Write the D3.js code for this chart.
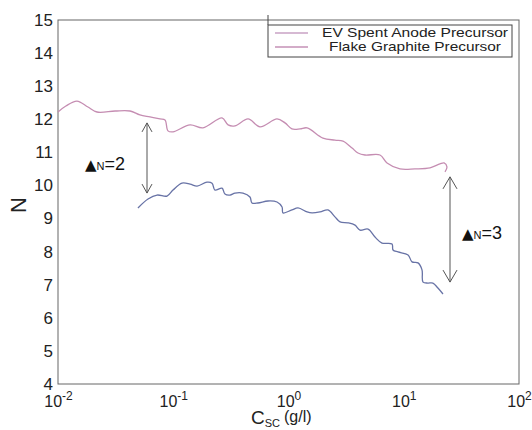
<!DOCTYPE html>
<html>
<head>
<meta charset="utf-8">
<script src="https://cdn.jsdelivr.net/npm/d3@7"></script>
<style>
  body { margin: 0; background: #fff; }
  svg { display: block; font-family: Arial, "Liberation Sans", sans-serif; }
</style>
</head>
<body>
<svg id="chart" width="532" height="430"></svg>
<script>
// ---- data ----
const seriesNames = ["EV Spent Anode Precursor", "Flake Graphite Precursor"];

// EV Spent Anode Precursor (upper curve): concentration C_sc (g/l), N
const evC = [0.0100, 0.0117, 0.0146, 0.0182, 0.0218, 0.0313, 0.0422, 0.0514, 0.0628, 0.0767,
             0.0848, 0.0900, 0.0995, 0.140, 0.181, 0.265, 0.299, 0.343, 0.446, 0.566,
             0.795, 0.933, 1.07, 1.26, 1.45, 1.99, 2.53, 2.97, 3.56, 4.01,
             4.61, 6.22, 7.16, 9.27, 12.5, 16.9, 20.6, 22.4, 23.7, 22.8];
const evN = [12.22, 12.40, 12.55, 12.37, 12.22, 12.25, 12.25, 12.13, 12.07, 12.01,
             11.98, 11.65, 11.62, 11.83, 11.74, 12.04, 11.83, 11.80, 12.01, 11.77,
             12.01, 11.89, 11.71, 11.71, 11.74, 11.43, 11.37, 11.34, 11.13, 10.98,
             10.92, 10.92, 10.68, 10.50, 10.50, 10.53, 10.65, 10.68, 10.56, 10.41];

// Flake Graphite Precursor (lower curve)
const fgC = [0.0494, 0.0604, 0.0723, 0.0883, 0.0995, 0.119, 0.140, 0.161, 0.196, 0.217,
             0.230, 0.265, 0.281, 0.311, 0.343, 0.403, 0.463, 0.482, 0.543, 0.664,
             0.795, 0.879, 0.896, 1.07, 1.21, 1.45, 1.60, 1.88, 2.20, 2.53,
             2.80, 3.28, 3.78, 4.17, 4.90, 5.63, 6.47, 7.91, 8.07, 8.92,
             10.9, 11.8, 13.3, 14.4, 14.7, 16.2, 17.9, 19.8, 21.9];
const fgN = [9.32, 9.59, 9.71, 9.68, 9.86, 10.07, 10.04, 9.98, 10.10, 10.07,
             9.86, 9.92, 9.74, 9.71, 9.77, 9.77, 9.65, 9.47, 9.47, 9.53,
             9.50, 9.35, 9.17, 9.26, 9.32, 9.20, 9.17, 9.20, 9.26, 9.05,
             8.90, 8.87, 8.80, 8.65, 8.68, 8.44, 8.26, 8.23, 8.05, 7.99,
             7.90, 7.69, 7.66, 7.45, 7.08, 7.05, 7.05, 6.90, 6.72];

const xTickValues = [0.01, 0.1, 1, 10, 100];
const xTickExponents = ["-2", "-1", "0", "1", "2"];
const yTickValues = [4, 5, 6, 7, 8, 9, 10, 11, 12, 13, 14, 15];

// Delta-N annotations: C position, N top, N bottom, label number
const annC = [0.0592, 25.2];
const annTop = [11.89, 10.26];
const annBottom = [9.77, 7.08];
const annValue = ["2", "3"];

// ---- drawing ----
const svg = d3.select("#chart");
const mLeft = 58, mRight = 519, mTop = 20, mBottom = 384;

const x = d3.scaleLog().domain([0.01, 100]).range([mLeft, mRight]);
const y = d3.scaleLinear().domain([4, 15]).range([mBottom, mTop]);

// y axis
const yAxis = svg.append("g")
  .attr("transform", `translate(${mLeft},0)`)
  .call(d3.axisLeft(y).tickValues(yTickValues).tickSize(0).tickPadding(5).tickFormat(d3.format("d")));
yAxis.select(".domain").remove();
yAxis.selectAll("text").attr("font-size", 17).attr("fill", "#222")
  .attr("font-family", "Arial, 'Liberation Sans', sans-serif");

// x axis
const xAxis = svg.append("g")
  .attr("transform", `translate(0,${mBottom})`)
  .call(d3.axisBottom(x).tickValues(xTickValues).tickSize(0).tickPadding(12).tickFormat(() => ""));
xAxis.select(".domain").remove();
xAxis.selectAll(".tick text").each(function(d, i) {
  const t = d3.select(this)
    .attr("font-size", 16).attr("fill", "#222")
    .attr("font-family", "Arial, 'Liberation Sans', sans-serif")
    .attr("text-anchor", "middle");
  t.text(null);
  t.append("tspan").text("10");
  t.append("tspan").attr("dy", -7).attr("font-size", 12).text(xTickExponents[i]);
});

// frame
svg.append("rect")
  .attr("x", mLeft).attr("y", mTop)
  .attr("width", mRight - mLeft).attr("height", mBottom - mTop)
  .attr("fill", "none").attr("stroke", "#666").attr("stroke-width", 1);

// curves
const line = d3.line()
  .x(d => x(d[0])).y(d => y(d[1]))
  .curve(d3.curveCatmullRom.alpha(0.5));

const evData = evC.map((c, i) => [c, evN[i]]);
const fgData = fgC.map((c, i) => [c, fgN[i]]);

svg.append("path").datum(evData).attr("d", line)
  .attr("fill", "none").attr("stroke", "#c58db2").attr("stroke-width", 1.3);
svg.append("path").datum(fgData).attr("d", line)
  .attr("fill", "none").attr("stroke", "#6873a6").attr("stroke-width", 1.3);

// delta-N arrows
annC.forEach((c, i) => {
  const ax = x(c), y1 = y(annTop[i]), y2 = y(annBottom[i]);
  const hw = i === 0 ? 5 : 7, hl = i === 0 ? 9 : 12;
  const g = svg.append("g").attr("stroke", "#555").attr("stroke-width", 1).attr("fill", "none");
  g.append("line").attr("x1", ax).attr("x2", ax).attr("y1", y1).attr("y2", y2);
  g.append("path").attr("d", `M${ax - hw},${y1 + hl}L${ax},${y1}L${ax + hw},${y1 + hl}`);
  g.append("path").attr("d", `M${ax - hw},${y2 - hl}L${ax},${y2}L${ax + hw},${y2 - hl}`);
});

// delta-N labels
const labelPos = [[85, 170], [462, 239]];
labelPos.forEach((p, i) => {
  const t = svg.append("text").attr("x", p[0]).attr("y", p[1]).attr("fill", "#111");
  t.append("tspan").attr("font-size", 15).attr("font-family", "'DejaVu Sans', sans-serif").text("▲");
  t.append("tspan").attr("font-size", 11).text("N");
  t.append("tspan").attr("font-size", 18).text("=" + annValue[i]);
});

// axis titles
svg.append("text")
  .attr("transform", "translate(26,205) rotate(-90)")
  .attr("text-anchor", "middle").attr("font-size", 22).attr("fill", "#222")
  .text("N");

const xt = svg.append("text").attr("x", 251).attr("y", 424).attr("fill", "#222");
xt.append("tspan").attr("font-size", 19).text("C");
xt.append("tspan").attr("font-size", 11).attr("dy", 3).text("SC");
xt.append("tspan").attr("font-size", 16).attr("dy", -5).attr("dx", 4).text("(g/l)");

// legend
const lg = svg.append("g");
lg.append("rect").attr("x", 268).attr("y", 25).attr("width", 244).attr("height", 32)
  .attr("fill", "#fff").attr("stroke", "#444").attr("stroke-width", 1);
lg.append("line").attr("x1", 268).attr("x2", 268).attr("y1", 15).attr("y2", 25)
  .attr("stroke", "#444");
const legendColors = ["#c8a2c4", "#c490b6"];
const legendTextWidth = [186, 172];
seriesNames.forEach((name, i) => {
  const ly = 33 + i * 14;
  lg.append("line").attr("x1", 275).attr("x2", 308).attr("y1", ly).attr("y2", ly)
    .attr("stroke", legendColors[i]).attr("stroke-width", 1.3);
  lg.append("text").attr("x", 415).attr("y", ly + 4).attr("text-anchor", "middle")
    .attr("font-size", 13).attr("fill", "#222")
    .attr("textLength", legendTextWidth[i]).attr("lengthAdjust", "spacingAndGlyphs")
    .text(name);
});
</script>
</body>
</html>
